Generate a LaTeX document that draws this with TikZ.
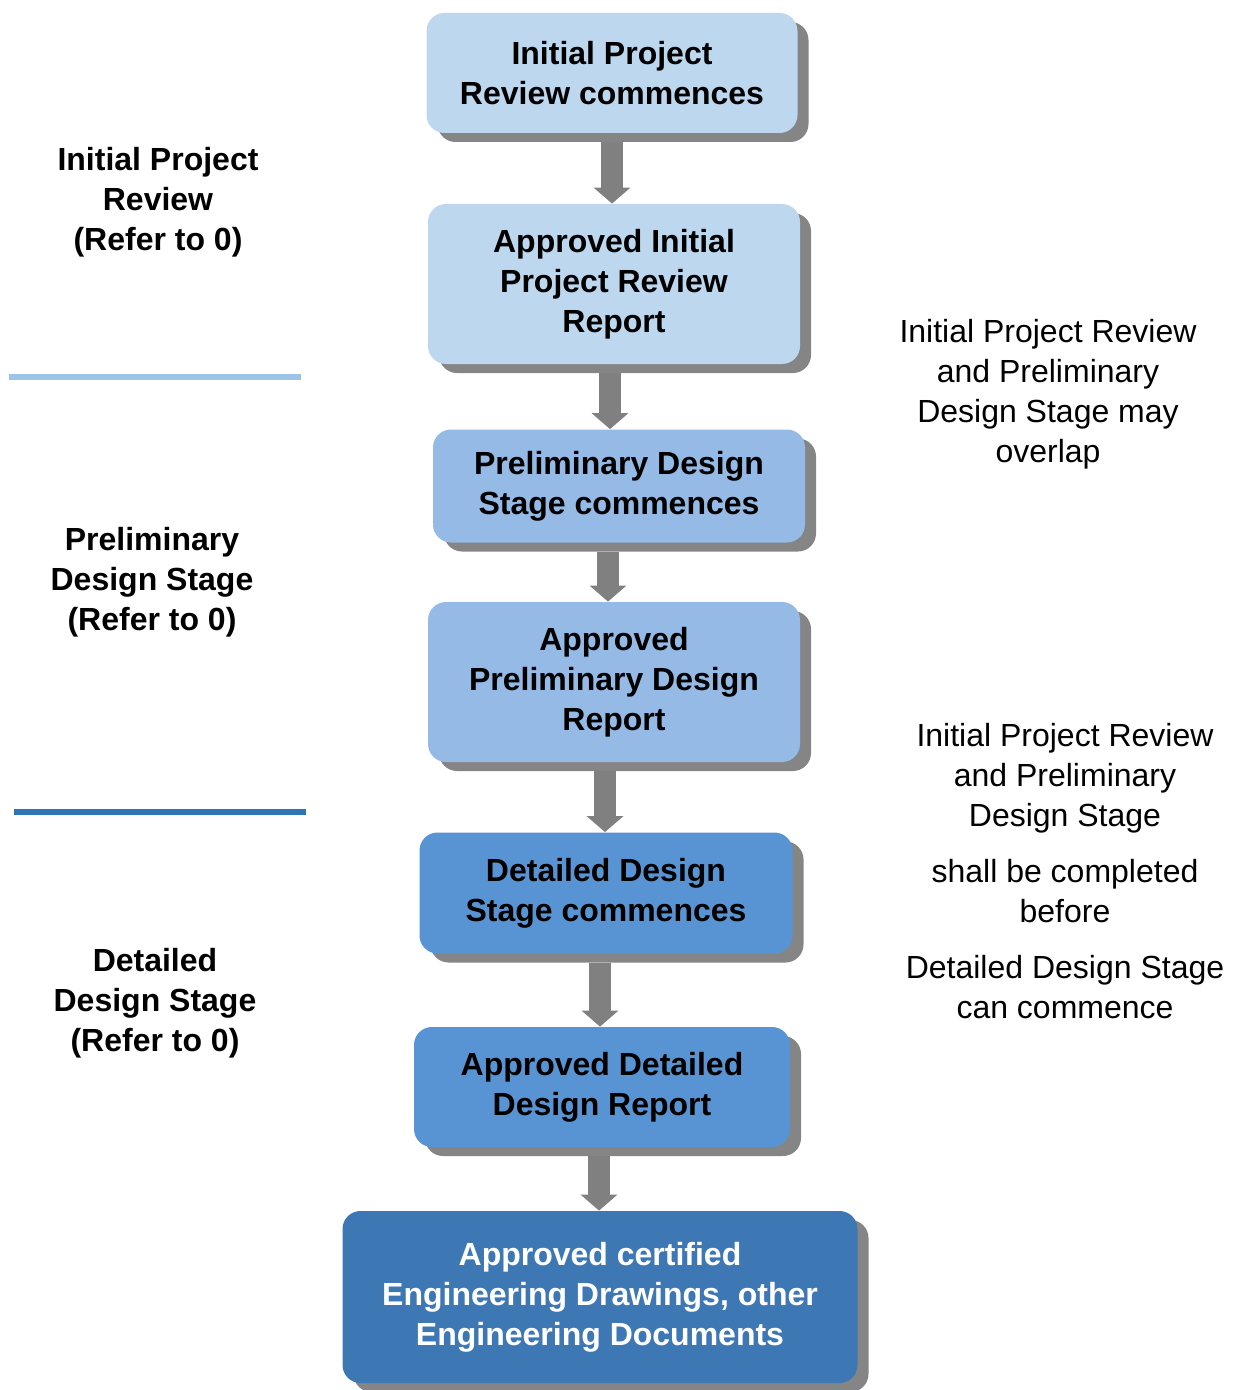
\documentclass[tikz,border=0pt]{standalone}
\usepackage{fontspec}
\setmainfont{Liberation Sans}
\usepackage{xcolor}
\usepackage{tikz}
\usetikzlibrary{positioning,arrows.meta,shadows}

\definecolor{paleblue}{HTML}{BDD7EE}
\definecolor{midblue}{HTML}{95BAE5}
\definecolor{deepblue}{HTML}{5894D4}
\definecolor{darkblue}{HTML}{3E78B4}
\definecolor{ruleblue}{HTML}{9DC3E6}
\definecolor{ruledark}{HTML}{2E75B6}

\begin{document}
\begin{tikzpicture}[x=0.5pt, y=-0.5pt,
    flowbox/.style={rounded corners=9pt, align=center, font=\bfseries\fontsize{16}{20}\selectfont,
        drop shadow={shadow xshift=5.5pt, shadow yshift=-4.5pt, fill=black!48, opacity=1}},
    stagelbl/.style={align=center, font=\bfseries\fontsize{16}{20}\selectfont},
    notelbl/.style={align=center, font=\fontsize{16}{20}\selectfont},
    flowarrow/.style={draw=black!50, line width=11pt, shorten <=4.5pt,
        -{Triangle[length=8pt, width=18pt, fill=black!50]}}]
\useasboundingbox (0,0) rectangle (1232,1390);

% flow boxes
\node[flowbox, fill=paleblue, minimum width=185.5pt, minimum height=60pt] (review) at (612,73) {Initial Project\\Review commences};
\node[flowbox, fill=paleblue, minimum width=186pt, minimum height=80pt] (reviewrep) at (614,284) {Approved Initial\\Project Review\\Report};
\node[flowbox, fill=midblue, minimum width=186pt, minimum height=56.5pt] (prelim) at (619,486) {Preliminary Design\\Stage commences};
\node[flowbox, fill=midblue, minimum width=186pt, minimum height=80pt] (prelimrep) at (614,682) {Approved\\Preliminary Design\\Report};
\node[flowbox, fill=deepblue, minimum width=186.5pt, minimum height=60.5pt] (detail) at (606,893) {Detailed Design\\Stage commences};
\node[flowbox, fill=deepblue, minimum width=188pt, minimum height=60pt] (detailrep) at (602,1087) {Approved Detailed\\Design Report};
\node[flowbox, fill=darkblue, text=white, minimum width=257.5pt, minimum height=86pt] (drawings) at (600,1297) {Approved certified\\Engineering Drawings, other\\Engineering Documents};

% arrows between boxes
\draw[flowarrow] (review.south) -- (review.south |- reviewrep.north);
\draw[flowarrow] (reviewrep.south -| 610,0) -- (prelim.north -| 610,0);
\draw[flowarrow] (prelim.south -| 608,0) -- (prelimrep.north -| 608,0);
\draw[flowarrow] (prelimrep.south -| 605,0) -- (detail.north -| 605,0);
\draw[flowarrow] (detail.south -| 600,0) -- (detailrep.north -| 600,0);
\draw[flowarrow] (detailrep.south -| 599,0) -- (drawings.north -| 599,0);

% stage labels on the left
\node[stagelbl] (stage1) at (158,202) {Initial Project\\Review\\(Refer to 0)};
\node[stagelbl] (stage2) at (152,582) {Preliminary\\Design Stage\\(Refer to 0)};
\node[stagelbl] (stage3) at (155,1003) {Detailed\\Design Stage\\(Refer to 0)};

% stage separators
\draw[ruleblue, line width=3pt] (9,377) -- (301,377);
\draw[ruledark, line width=3pt] (14,812) -- (306,812);

% notes on the right
\node[notelbl] (overlap) at (1048,394) {Initial Project Review\\and Preliminary\\Design Stage may\\overlap};
\node[notelbl] (complete) at (1065,871) {Initial Project Review\\and Preliminary\\Design Stage\\[8pt]shall be completed\\before\\[8pt]Detailed Design Stage\\can commence};

\end{tikzpicture}
\end{document}
